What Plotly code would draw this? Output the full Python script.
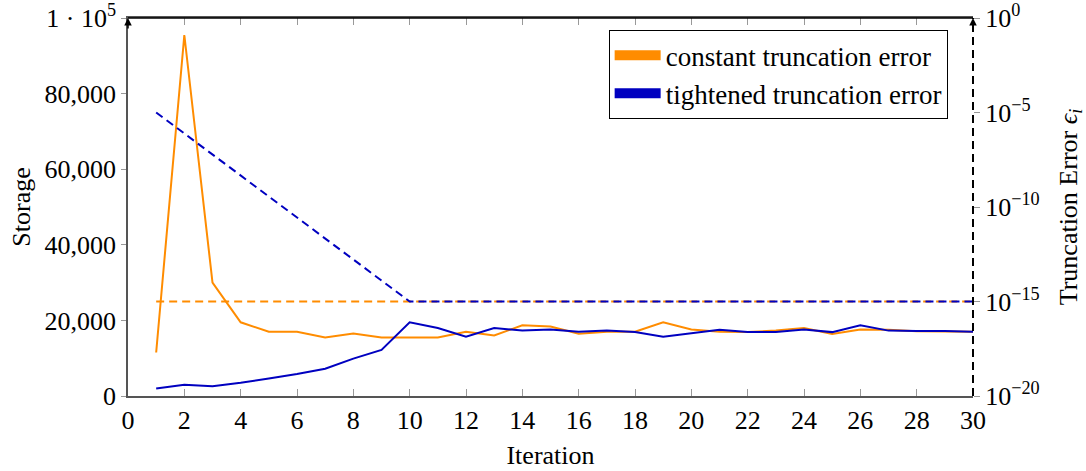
import plotly.graph_objects as go

iterations = list(range(1, 31))
storage_constant = [11500, 95500, 30000, 19500, 17000, 17000, 15500, 16500, 15500, 15500,
                    15500, 17000, 16000, 18700, 18400, 16500, 17000, 17000, 19500, 17600,
                    17000, 16900, 17300, 18000, 16400, 17600, 17500, 17100, 17000, 17000]
storage_tightened = [2000, 3000, 2600, 3500, 4600, 5800, 7200, 9900, 12200, 19500,
                     18000, 15700, 18000, 17300, 17600, 17000, 17300, 16900, 15700, 16600,
                     17500, 16900, 16900, 17600, 16900, 18700, 17300, 17200, 17200, 17000]
trunc_constant = [1e-15] * 30
trunc_tightened = [1e-5, 7.7e-7, 6e-8, 4.6e-9, 3.6e-10, 2.8e-11, 2.2e-12, 1.7e-13, 1.3e-14, 1e-15,
                   1e-15, 1e-15, 1e-15, 1e-15, 1e-15, 1e-15, 1e-15, 1e-15, 1e-15, 1e-15,
                   1e-15, 1e-15, 1e-15, 1e-15, 1e-15, 1e-15, 1e-15, 1e-15, 1e-15, 1e-15]
x_ticks = list(range(0, 31, 2))
y_ticks = [0, 20000, 40000, 60000, 80000, 100000]
y_ticktext = ["0", "20,000", "40,000", "60,000", "80,000", "1 · 10<sup>5</sup>"]
y2_ticks = [1e0, 1e-5, 1e-10, 1e-15, 1e-20]
y2_ticktext = ["10<sup>0</sup>", "10<sup>−5</sup>", "10<sup>−10</sup>", "10<sup>−15</sup>", "10<sup>−20</sup>"]
series_names = ["constant truncation error", "tightened truncation error"]

ORANGE = "#FF8C00"
BLUE = "#0000C0"
FONT = "Liberation Serif, DejaVu Serif, serif"
F = dict(family=FONT, size=26, color="black")
FL = dict(family=FONT, size=27, color="black")

fig = go.Figure()
# truncation error (right axis, dashed)
fig.add_trace(go.Scatter(x=iterations, y=trunc_constant, yaxis="y2", mode="lines",
                         line=dict(color=ORANGE, width=2, dash="8px,5px"), showlegend=False))
fig.add_trace(go.Scatter(x=iterations, y=trunc_tightened, yaxis="y2", mode="lines",
                         line=dict(color=BLUE, width=2, dash="8px,5px"), showlegend=False))
# storage (left axis)
fig.add_trace(go.Scatter(x=iterations, y=storage_constant, mode="lines",
                         line=dict(color=ORANGE, width=2), showlegend=False))
fig.add_trace(go.Scatter(x=iterations, y=storage_tightened, mode="lines",
                         line=dict(color=BLUE, width=2), showlegend=False))
# legend entries
for name, c in zip(series_names, [ORANGE, BLUE]):
    fig.add_trace(go.Scatter(x=[None], y=[None], mode="lines", name=name,
                             line=dict(color=c, width=16)))

fig.update_layout(
    width=1086, height=471,
    margin=dict(l=128, r=113, t=18, b=75, autoexpand=False),
    paper_bgcolor="white", plot_bgcolor="white",
    font=F,
    xaxis=dict(range=[0, 30], tickvals=x_ticks, showgrid=False, zeroline=False,
               showline=True, linecolor="#555", linewidth=1.5, mirror="ticks",
               ticks="inside", ticklen=7, tickcolor="#999", tickwidth=1.2, automargin=False,
               title=dict(text="Iteration", standoff=12, font=F), tickfont=F),
    yaxis=dict(range=[0, 100000], tickvals=y_ticks, ticktext=y_ticktext, showgrid=False,
               zeroline=False, showline=True, linecolor="#555", linewidth=1.5,
               ticks="outside", ticklen=5, tickcolor="#999", tickwidth=1.2, automargin=False,
               ticklabeloverflow="allow",
               title=dict(text="Storage", standoff=6, font=F), tickfont=F),
    yaxis2=dict(type="log", range=[-20, 0], overlaying="y", side="right",
                tickvals=y2_ticks, ticktext=y2_ticktext, showgrid=False, zeroline=False,
                showline=False, ticks="outside", ticklen=6, tickcolor="#999", tickwidth=1.2,
                automargin=False, tickfont=F, ticklabeloverflow="allow",
                title=dict(text="Truncation Error <i>ϵ<sub>i</sub></i>", standoff=20, font=F)),
    legend=dict(x=0.97, y=0.968, xanchor="right", yanchor="top", bgcolor="white",
                bordercolor="black", borderwidth=1, font=FL,
                itemwidth=46, tracegroupgap=0),
    shapes=[
        dict(type="line", xref="paper", yref="paper", x0=1, x1=1, y0=0, y1=1,
             line=dict(color="black", width=2, dash="8px,5px")),
        dict(type="line", xref="paper", yref="paper", x0=0, x1=1, y0=1, y1=1,
             line=dict(color="black", width=1.5)),
    ],
    annotations=[
        dict(x=0, y=1, xref="paper", yref="paper", text="", showarrow=True, ax=0, ay=12,
             arrowhead=2, arrowsize=1, arrowwidth=1.5, arrowcolor="black", standoff=0),
        dict(x=1, y=1, xref="paper", yref="paper", text="", showarrow=True, ax=0, ay=12,
             arrowhead=2, arrowsize=1, arrowwidth=1.5, arrowcolor="black", standoff=0),
    ],
)

fig.write_html("out.html", config={"displayModeBar": False},
               post_script="document.body.style.margin='0';")
